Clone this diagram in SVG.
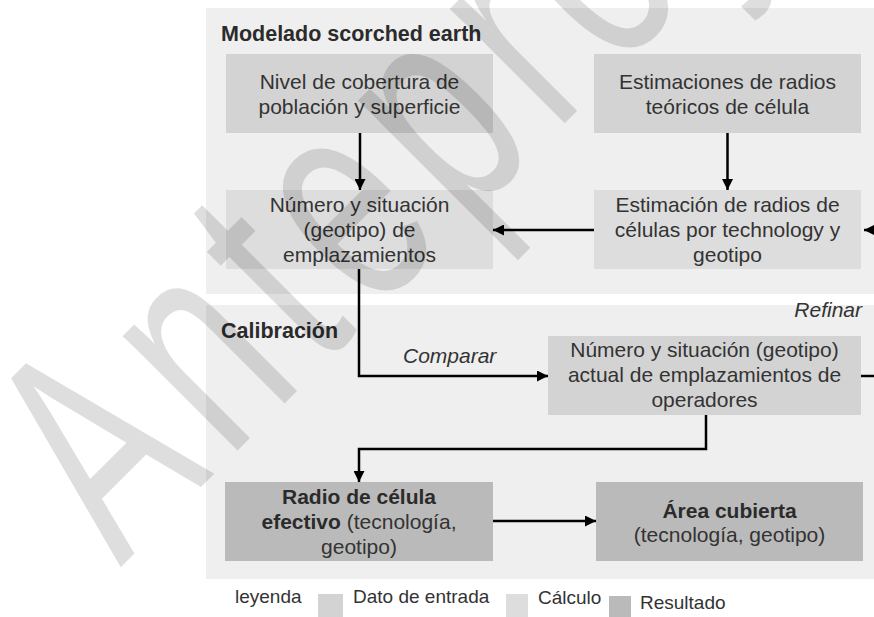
<svg xmlns="http://www.w3.org/2000/svg" width="874" height="617" viewBox="0 0 874 617">
<style>
.panel{fill:#efefef}
.in{fill:#d3d3d3}
.calc{fill:#dddddd}
.res{fill:#bababa}
text{font-family:"Liberation Sans",Arial,sans-serif;fill:#333333}
.t{font-size:21px;text-anchor:middle}
.h{font-size:21.5px;font-weight:bold;fill:#2b2b2b}
.b{font-weight:bold;fill:#2b2b2b}
.lbl{font-size:21px;font-style:italic}
.leg{font-size:19px}
.wm{font-size:307px;fill:#000000;fill-opacity:0.13;letter-spacing:28.6px}
.conn path{fill:none;stroke:#000000;stroke-width:2.5}
</style>
<defs>
<marker id="ah" viewBox="0 0 10 10" refX="10" refY="5" markerWidth="11" markerHeight="11" markerUnits="userSpaceOnUse" orient="auto">
<path d="M0,0 L10,5 L0,10 z" fill="#000000"/>
</marker>
</defs>
<rect width="874" height="617" fill="#ffffff"/>
<g id="panel-modelado">
<rect class="panel" x="206" y="8" width="668" height="286"/>
<text class="h" x="221" y="41">Modelado scorched earth</text>
</g>
<g id="panel-calibracion">
<rect class="panel" x="206" y="305" width="668" height="274"/>
<text class="h" x="221" y="338">Calibración</text>
</g>
<g id="nivel">
<rect class="in" x="226" y="54" width="267" height="79"/>
<text class="t" x="359.5" y="89">Nivel de cobertura de<tspan x="359.5" y="114">población y superficie</tspan></text>
</g>
<g id="estimaciones">
<rect class="in" x="594" y="54" width="267" height="79"/>
<text class="t" x="727.5" y="89">Estimaciones de radios<tspan x="727.5" y="114">teóricos de célula</tspan></text>
</g>
<g id="numero">
<rect class="calc" x="226" y="190" width="267" height="79"/>
<text class="t" x="359.5" y="212">Número y situación<tspan x="359.5" y="237">(geotipo) de</tspan><tspan x="359.5" y="262">emplazamientos</tspan></text>
</g>
<g id="estimacion">
<rect class="calc" x="594" y="190" width="267" height="79"/>
<text class="t" x="727.5" y="212">Estimación de radios de<tspan x="727.5" y="237">células por technology y</tspan><tspan x="727.5" y="262">geotipo</tspan></text>
</g>
<g id="numero-actual">
<rect class="in" x="548" y="336" width="313" height="79"/>
<text class="t" x="704.5" y="357">Número y situación (geotipo)<tspan x="704.5" y="382">actual de emplazamientos de</tspan><tspan x="704.5" y="407">operadores</tspan></text>
</g>
<g id="radio">
<rect class="res" x="225" y="482" width="268" height="79"/>
<text class="t" x="359" y="504"><tspan class="b">Radio de célula</tspan><tspan x="359" y="529"><tspan class="b">efectivo</tspan> (tecnología,</tspan><tspan x="359" y="554">geotipo)</tspan></text>
</g>
<g id="area">
<rect class="res" x="596" y="482" width="267" height="79"/>
<text class="t" x="729.5" y="518"><tspan class="b">Área cubierta</tspan><tspan x="729.5" y="542">(tecnología, geotipo)</tspan></text>
</g>
<g id="connectors" class="conn">
<path d="M360,133 L360,190" marker-end="url(#ah)"/>
<path d="M727.5,133 L727.5,190" marker-end="url(#ah)"/>
<path d="M594,230 L493,230" marker-end="url(#ah)"/>
<path d="M874,230 L864,230" marker-end="url(#ah)"/>
<path d="M359,269 L359,376 L548,376" marker-end="url(#ah)"/>
<path d="M861,376 L874,376"/>
<path d="M706,415 L706,449 L359,449 L359,482" marker-end="url(#ah)"/>
<path d="M493,521 L596,521" marker-end="url(#ah)"/>
<text class="lbl" x="403" y="363">Comparar</text>
<text class="lbl" x="862" y="317" text-anchor="end">Refinar</text>
</g>
<g id="legend">
<text class="leg" x="235" y="603">leyenda</text>
<rect class="in" x="318" y="594" width="25" height="23"/>
<text class="leg" x="353" y="603">Dato de entrada</text>
<rect class="calc" x="506" y="594" width="22" height="23"/>
<text class="leg" x="538" y="604">Cálculo</text>
<rect class="res" x="609" y="596" width="22" height="21"/>
<text class="leg" x="640" y="609">Resultado</text>
</g>
<g id="watermark">
<text class="wm" transform="translate(120.5,567.5) rotate(-45) scale(0.65,1)">Anteproyecto</text>
</g>
</svg>
